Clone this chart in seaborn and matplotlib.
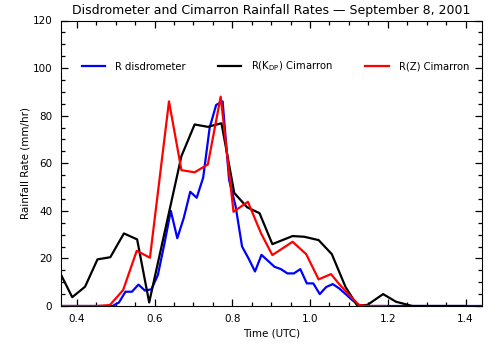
import numpy as np
import seaborn as sns
import matplotlib.pyplot as plt
from matplotlib.ticker import MultipleLocator

# disdrometer, 1-minute samples (time in hours UTC)
t_disdro = np.arange(21.5, 87.0, 1.0) / 60.0
r_disdro = [0, 0, 0, 0, 0, 0, 0, 0, 0, 1.5,
            6, 6, 9, 6.5, 7, 13, 26, 40, 28.5, 37,
            48, 45.5, 54, 75, 84.5, 86, 53, 42, 25, 20,
            14.5, 21.5, 19, 16.5, 15.5, 13.7, 13.7, 15.5, 9.5, 9.5,
            5, 8, 9.2, 7.4, 5, 2.5, 0.5, 0, 0, 0,
            0, 0, 0, 0, 0, 0, 0, 0, 0, 0,
            0, 0, 0, 0, 0, 0]

# Cimarron radar, R(KDP)
t_kdp = [0.358, 0.388, 0.421, 0.453, 0.486, 0.521, 0.555, 0.586, 0.669, 0.703,
         0.737, 0.772, 0.805, 0.838, 0.870, 0.903, 0.955, 0.985, 1.022, 1.056,
         1.091, 1.122, 1.148, 1.188, 1.221, 1.263, 1.400]
r_kdp = [13.5, 3.7, 8.1, 19.6, 20.5, 30.5, 28, 1.5, 63, 76.3,
         75.3, 76.8, 47.5, 41.5, 39, 26, 29.4, 29.1, 27.7, 21.8,
         8.1, 0, 0.5, 5, 1.8, 0, 0]

# Cimarron radar, R(Z)
t_z = [0.358, 0.452, 0.485, 0.519, 0.554, 0.588, 0.637, 0.669, 0.703, 0.737,
       0.770, 0.803, 0.840, 0.874, 0.903, 0.955, 0.990, 1.022, 1.054, 1.075,
       1.101, 1.126, 1.148, 1.195]
r_z = [0, 0, 0.4, 6.7, 23.2, 20.3, 86, 57.1, 56.2, 59.5,
       88, 39.6, 43.8, 30.5, 21.4, 27, 21.8, 11.2, 13.4, 9.2,
       4.6, 0.4, 0, 0]

plt.rcParams['font.family'] = ['DejaVu Sans']

fig = plt.figure(figsize=(5.01, 3.51), dpi=100)
ax = fig.add_axes([60.7 / 501, 45 / 351, 421 / 501, 285.5 / 351])

sns.lineplot(x=t_disdro, y=r_disdro, ax=ax, color='#0000ff', lw=1.6,
             label='R disdrometer')
sns.lineplot(x=t_kdp, y=r_kdp, ax=ax, color='black', lw=1.6,
             label=r'R(K$_{\rm DP}$) Cimarron')
sns.lineplot(x=t_z, y=r_z, ax=ax, color='#ff0000', lw=1.6,
             label='R(Z) Cimarron')

ax.set_xlim(21.5 / 60, 86.5 / 60)
ax.set_ylim(0, 120)
ax.xaxis.set_major_locator(MultipleLocator(0.2))
ax.xaxis.set_minor_locator(MultipleLocator(0.05))
ax.yaxis.set_major_locator(MultipleLocator(20))
ax.yaxis.set_minor_locator(MultipleLocator(5))
ax.tick_params(which='both', direction='in', top=True, right=True,
               bottom=True, left=True, colors='black', labelsize=7.5)
ax.tick_params(which='major', length=5, width=0.9, pad=6)
ax.tick_params(which='minor', length=2.8, width=0.9)
for s in ax.spines.values():
    s.set_linewidth(0.8)
    s.set_color('black')

ax.set_title('Disdrometer and Cimarron Rainfall Rates \u2014 September 8, 2001',
             fontsize=9, pad=5)
ax.set_xlabel('Time (UTC)', fontsize=7.5, labelpad=3)
ax.set_ylabel('Rainfall Rate (mm/hr)', fontsize=7.5, labelpad=1.5)

ax.legend(loc='upper left', bbox_to_anchor=(0.05, 0.862), ncol=3,
          frameon=False, fontsize=7.2, handlelength=2.35, handletextpad=1.0,
          columnspacing=3.2, borderpad=0, borderaxespad=0)

fig.savefig('out.png', dpi=100)
